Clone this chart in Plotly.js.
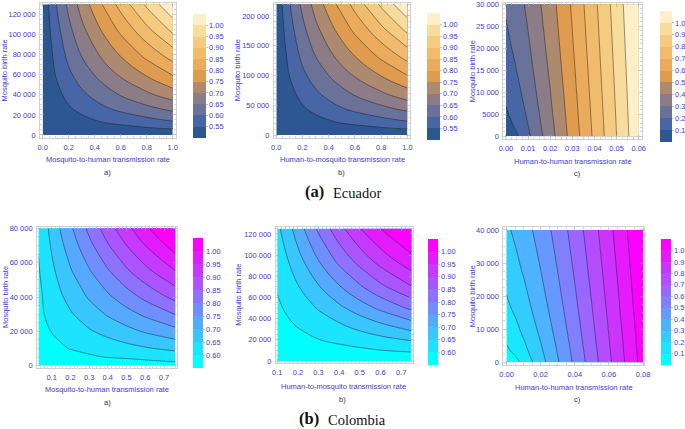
<!DOCTYPE html>
<html><head><meta charset="utf-8">
<script src="https://cdn.plot.ly/plotly-3.0.1.min.js"></script>
<style>html,body{margin:0;padding:0;background:#fff}#chart{width:685px;height:429px}</style>
</head><body><div id="chart"></div>
<script>
// ---------------- DATA ----------------
// Ecuador a) : Mosquito-to-human transmission rate vs Mosquito birth rate
const ecA_x = [0, 0.05, 0.1, 0.2, 0.3, 0.45, 0.6, 0.8, 1.0];
const ecA_y = [0, 6500, 13000, 26000, 39000, 58500, 78000, 104000, 130000];
const ecA_z = [
  [0.500,0.500,0.500,0.500,0.500,0.500,0.500,0.500,0.500],
  [0.500,0.503,0.506,0.511,0.517,0.525,0.533,0.544,0.554],
  [0.500,0.506,0.511,0.522,0.533,0.550,0.563,0.580,0.597],
  [0.500,0.511,0.522,0.544,0.563,0.589,0.611,0.636,0.662],
  [0.500,0.517,0.533,0.563,0.589,0.620,0.650,0.686,0.720],
  [0.500,0.525,0.550,0.589,0.620,0.663,0.703,0.750,0.797],
  [0.500,0.533,0.563,0.611,0.650,0.703,0.750,0.810,0.868],
  [0.500,0.544,0.580,0.636,0.686,0.750,0.810,0.885,0.960],
  [0.500,0.554,0.597,0.662,0.720,0.797,0.868,0.960,1.045]
];
// Ecuador b) : Human-to-mosquito transmission rate vs Mosquito birth rate
const ecB_x = [0, 0.05, 0.1, 0.2, 0.3, 0.45, 0.6, 0.8, 1.0];
const ecB_y = [0, 11000, 22000, 44000, 66000, 99000, 132000, 176000, 220000];
const ecB_z = [
  [0.500,0.500,0.500,0.500,0.500,0.500,0.500,0.500,0.500],
  [0.500,0.503,0.506,0.511,0.517,0.525,0.533,0.544,0.554],
  [0.500,0.506,0.511,0.522,0.533,0.550,0.563,0.580,0.597],
  [0.500,0.511,0.522,0.544,0.563,0.589,0.611,0.636,0.662],
  [0.500,0.517,0.533,0.563,0.589,0.620,0.650,0.686,0.720],
  [0.500,0.525,0.550,0.589,0.620,0.663,0.703,0.750,0.797],
  [0.500,0.533,0.563,0.611,0.650,0.703,0.750,0.810,0.868],
  [0.500,0.544,0.580,0.636,0.686,0.750,0.810,0.885,0.960],
  [0.500,0.554,0.597,0.662,0.720,0.797,0.868,0.960,1.045]
];
// Ecuador c) : Human-to-human transmission rate vs Mosquito birth rate
const ecC_x = [0, 0.005, 0.01, 0.02, 0.03, 0.04, 0.05, 0.06];
const ecC_y = [0, 2500, 7500, 15000, 22500, 30000];
const ecC_z = [
  [0.000,0.090,0.180,0.360,0.540,0.720,0.900,1.080],
  [0.061,0.121,0.199,0.370,0.547,0.725,0.904,1.083],
  [0.106,0.160,0.229,0.389,0.560,0.735,0.912,1.090],
  [0.150,0.202,0.265,0.414,0.579,0.750,0.924,1.100],
  [0.184,0.234,0.295,0.437,0.597,0.764,0.936,1.110],
  [0.212,0.262,0.320,0.458,0.613,0.778,0.948,1.120]
];
// Colombia a)
const coA_x = [0.03, 0.06, 0.1, 0.15, 0.2, 0.3, 0.4, 0.5, 0.6, 0.76];
const coA_y = [0, 2500, 5000, 10000, 20000, 30000, 40000, 55000, 70000, 80000];
const coA_z = [
  [0.555,0.555,0.555,0.555,0.555,0.555,0.555,0.555,0.555,0.555],
  [0.557,0.559,0.561,0.564,0.568,0.574,0.580,0.586,0.593,0.602],
  [0.559,0.563,0.568,0.574,0.580,0.593,0.602,0.607,0.613,0.622],
  [0.563,0.570,0.580,0.593,0.602,0.613,0.623,0.634,0.645,0.661],
  [0.570,0.585,0.602,0.613,0.623,0.645,0.665,0.685,0.705,0.734],
  [0.578,0.600,0.613,0.629,0.645,0.675,0.705,0.732,0.759,0.802],
  [0.585,0.606,0.623,0.645,0.665,0.705,0.741,0.777,0.812,0.865],
  [0.596,0.616,0.639,0.668,0.695,0.745,0.795,0.842,0.885,0.949],
  [0.603,0.626,0.655,0.690,0.723,0.786,0.846,0.900,0.950,1.023],
  [0.606,0.632,0.665,0.705,0.741,0.812,0.877,0.936,0.990,1.070]
];
// Colombia b)
const coB_x = [0.1, 0.15, 0.2, 0.3, 0.4, 0.5, 0.6, 0.75];
const coB_y = [0, 5000, 10000, 20000, 35000, 50000, 70000, 95000, 125000];
const coB_z = [
  [0.555,0.555,0.555,0.555,0.555,0.555,0.555,0.555],
  [0.559,0.560,0.562,0.566,0.570,0.573,0.577,0.582],
  [0.562,0.566,0.570,0.577,0.584,0.591,0.599,0.608],
  [0.570,0.577,0.584,0.599,0.611,0.623,0.635,0.654],
  [0.580,0.593,0.605,0.626,0.647,0.671,0.696,0.734],
  [0.591,0.608,0.623,0.654,0.689,0.725,0.760,0.809],
  [0.605,0.626,0.647,0.696,0.746,0.793,0.838,0.897],
  [0.620,0.648,0.682,0.750,0.813,0.869,0.920,0.984],
  [0.638,0.680,0.725,0.809,0.883,0.948,1.000,1.060]
];
// Colombia c)
const coC_x = [0, 0.005, 0.01, 0.02, 0.03, 0.04, 0.05, 0.06, 0.07, 0.08];
const coC_y = [0, 3000, 8000, 16000, 28000, 40000];
const coC_z = [
  [0.000,0.065,0.130,0.260,0.390,0.520,0.650,0.780,0.910,1.040],
  [0.077,0.117,0.166,0.281,0.405,0.531,0.659,0.788,0.917,1.046],
  [0.126,0.163,0.207,0.311,0.427,0.549,0.674,0.800,0.927,1.055],
  [0.179,0.214,0.255,0.351,0.460,0.576,0.696,0.819,0.944,1.070],
  [0.237,0.271,0.310,0.400,0.502,0.612,0.727,0.846,0.968,1.091],
  [0.283,0.317,0.355,0.441,0.539,0.644,0.756,0.872,0.991,1.112]
];
// contour levels and legend tick labels
const levelsAB_ec = [0.55,0.60,0.65,0.70,0.75,0.80,0.85,0.90,0.95,1.00];
const labelsAB_ec = ['0.55','0.60','0.65','0.70','0.75','0.80','0.85','0.90','0.95','1.00'];
const levelsAB_co = [0.60,0.65,0.70,0.75,0.80,0.85,0.90,0.95,1.00];
const labelsAB_co = ['0.60','0.65','0.70','0.75','0.80','0.85','0.90','0.95','1.00'];
const levelsC = [0.1,0.2,0.3,0.4,0.5,0.6,0.7,0.8,0.9,1.0];
const labelsC = ['0.1','0.2','0.3','0.4','0.5','0.6','0.7','0.8','0.9','1.0'];
const xTitles = ['Mosquito-to-human transmission rate','Human-to-mosquito transmission rate','Human-to-human transmission rate'];
const yTitle = 'Mosquito birth rate';
const subLabels = ['a)','b)','c)'];

// ---------------- STYLE ----------------
const W = 685, H = 429;
const px = v => v / W, py = v => 1 - v / H;
const BLUE = '#3c3cd6';
const SANS = 'Liberation Sans, Arial, sans-serif';
const SERIF = 'Liberation Serif, Times New Roman, serif';
const ecColors = ['#2c5790','#4866a5','#6a7299','#8b7c87','#ad8a6f','#df9c51','#ebab5c','#f0bb6c','#f4cb80','#f8dc9c','#fdf0c8'];
function coolColors(n){const a=[];for(let j=0;j<n;j++){const t=j/(n-1);a.push('rgb('+Math.round(255*t)+','+Math.round(255*(1-t))+',255)');}return a;}
const co10 = coolColors(10), co11 = coolColors(11);

function fillScale(cols){ // band j sampled at s=j/nc
  const nc = cols.length-1, s=[];
  cols.forEach((c,j)=>{s.push([Math.max(0,(j-0.5)/nc),c]);s.push([Math.min(1,(j+0.5)/nc),c]);});
  return s;
}
function stepScale(cols){
  const n = cols.length, s=[];
  cols.forEach((c,k)=>{s.push([k/n,c]);s.push([(k+1)/n,c]);});
  return s;
}

const panels = [
  {x:ecA_x,y:ecA_y,z:ecA_z,lev:levelsAB_ec,lab:labelsAB_ec,cols:ecColors,
   fx:[40,176],fy:[3,138],xr:[-0.0207,1.023],yr:[-3000,131300],xd:0.2,xm:0.05,xf:'.1f',yd:20000,ym:5000,
   cb:{x:193,y:[14,138],t:13},xt:[108,159],sub:[108,172],yt:[5,70.5],ti:0},
  {x:ecB_x,y:ecB_y,z:ecB_z,lev:levelsAB_ec,lab:labelsAB_ec,cols:ecColors,
   fx:[274,411],fy:[3,138],xr:[-0.0206,1.023],yr:[-5000,221800],xd:0.2,xm:0.05,xf:'.1f',yd:50000,ym:10000,
   cb:{x:427,y:[13,140],t:13},xt:[343,159],sub:[342,172],yt:[238,70.5],ti:1},
  {x:ecC_x,y:ecC_y,z:ecC_z,lev:levelsC,lab:labelsC,cols:ecColors,
   fx:[504,643],fy:[3,139],xr:[-0.0012,0.0615],yr:[-600,30300],xd:0.01,xm:0.0025,xf:'.2f',yd:5000,ym:1000,
   cb:{x:660,y:[11,142],t:12},xt:[574,161],sub:[578,173],yt:[473,71],ti:2},
  {x:coA_x,y:coA_y,z:coA_z,lev:levelsAB_co,lab:labelsAB_co,cols:co10,
   fx:[37,177],fy:[227,368],xr:[0.0217,0.7677],yr:[-1340,80760],xd:0.1,xm:0.02,xf:'.1f',x0:0.1,yd:20000,ym:5000,
   cb:{x:193,y:[238,368],t:10},xt:[107,389],sub:[108,402],yt:[5,297],ti:0},
  {x:coB_x,y:coB_y,z:coB_z,lev:levelsAB_co,lab:labelsAB_co,cols:co10,
   fx:[276,414],fy:[227,363],xr:[0.0918,0.7595],yr:[-1890,126600],xd:0.1,xm:0.02,xf:'.1f',x0:0.1,yd:20000,ym:5000,
   cb:{x:428,y:[239,365],t:10},xt:[344,386],sub:[343,399],yt:[238,295],ti:1},
  {x:coC_x,y:coC_y,z:coC_z,lev:levelsC,lab:labelsC,cols:co11,
   fx:[504,645],fy:[227,365],xr:[-0.0019,0.0806],yr:[-844,40900],xd:0.02,xm:0.005,xf:'.2f',yd:10000,ym:2500,
   cb:{x:661,y:[239,365],t:10},xt:[575,387],sub:[578,399],yt:[473,296],ti:2}
];

const data = [], annotations = [];
const layout = {
  width:W, height:H, margin:{l:0,r:0,t:0,b:0}, paper_bgcolor:'#fff', plot_bgcolor:'#fff',
  showlegend:false, separators:'. ', font:{family:SANS,size:7.5,color:BLUE}
};
const tf = {size:7.5,color:BLUE,family:SANS};

panels.forEach((p,i)=>{
  const n = i===0?'':String(i+1);
  const xa='x'+n, ya='y'+n;
  const common = {showline:true, mirror:'ticks', linecolor:'#c4c4c4', linewidth:0.8, ticks:'inside', ticklen:4,
    tickwidth:0.6, tickcolor:'#a8a8a8', showgrid:false, zeroline:false, tickfont:tf, fixedrange:true,
    ticklabelstandoff:2, ticklabeloverflow:'allow'};
  layout['xaxis'+n] = Object.assign({}, common, {domain:[px(p.fx[0]),px(p.fx[1])], range:p.xr, anchor:ya,
    tickmode:'linear', tick0:(p.x0!==undefined?p.x0:0), dtick:p.xd, tickformat:p.xf,
    minor:{ticks:'inside', ticklen:2, tickcolor:'#bbbbbb', dtick:p.xm, tick0:0, showgrid:false}});
  layout['yaxis'+n] = Object.assign({}, common, {domain:[py(p.fy[1]),py(p.fy[0])], range:p.yr, anchor:xa,
    tickmode:'linear', tick0:0, dtick:p.yd, exponentformat:'none',
    minor:{ticks:'inside', ticklen:2, tickcolor:'#bbbbbb', dtick:p.ym, tick0:0, showgrid:false}});
  const lv = p.lev, sz = Math.round((lv[1]-lv[0])*1000)/1000;
  data.push({type:'contour', x:p.x, y:p.y, z:p.z, xaxis:xa, yaxis:ya, autocontour:false,
    contours:{start:lv[0], end:lv[lv.length-1], size:sz, coloring:'fill', showlines:true},
    line:{color:'rgba(25,25,25,0.75)', width:0.6, smoothing:1},
    colorscale:fillScale(p.cols), showscale:false, hoverinfo:'skip'});
  const lo = lv[0]-sz, hi = lv[lv.length-1]+sz;
  data.push({type:'heatmap', x:[p.x[0],p.x[p.x.length-1]], y:[p.y[0]], z:[[lo,hi]], zmin:lo, zmax:hi,
    xaxis:xa, yaxis:ya, opacity:0, colorscale:stepScale(p.cols), showscale:true, hoverinfo:'skip',
    colorbar:{x:px(p.cb.x), xanchor:'left', y:py((p.cb.y[0]+p.cb.y[1])/2), yanchor:'middle',
      len:p.cb.y[1]-p.cb.y[0], lenmode:'pixels', thickness:p.cb.t, thicknessmode:'pixels',
      xpad:0, ypad:0, outlinewidth:0, tickmode:'array', tickvals:lv, ticktext:p.lab,
      ticks:'outside', ticklen:2, tickwidth:0.6, tickcolor:'#999', tickfont:tf,
      ticklabeloverflow:'allow'}});
  annotations.push({xref:'paper',yref:'paper',x:px(p.xt[0]),y:py(p.xt[1]),text:xTitles[p.ti],showarrow:false,
    xanchor:'center',yanchor:'middle',font:{size:7.5,color:BLUE,family:SANS}});
  annotations.push({xref:'paper',yref:'paper',x:px(p.sub[0]),y:py(p.sub[1]),text:subLabels[p.ti],showarrow:false,
    xanchor:'center',yanchor:'middle',font:{size:7.5,color:'#333',family:SANS}});
  annotations.push({xref:'paper',yref:'paper',x:px(p.yt[0]),y:py(p.yt[1]),text:yTitle,showarrow:false,textangle:-90,
    xanchor:'center',yanchor:'middle',font:{size:7.5,color:BLUE,family:SANS}});
});

const captions = [
  {t:'<b>(a)</b>', x:315, y:192, s:16.5}, {t:'Ecuador', x:357.5, y:193, s:14.5},
  {t:'<b>(b)</b>', x:309.5, y:418.5, s:16.5}, {t:'Colombia', x:358, y:419.5, s:14.5}
];
captions.forEach(c=>annotations.push({xref:'paper',yref:'paper',x:px(c.x),y:py(c.y),text:c.t,showarrow:false,
  xanchor:'center',yanchor:'middle',borderpad:0,font:{size:c.s,color:'#111',family:SERIF}}));
layout.annotations = annotations;

Plotly.newPlot('chart', data, layout, {displayModeBar:false, staticPlot:true});
</script></body></html>
